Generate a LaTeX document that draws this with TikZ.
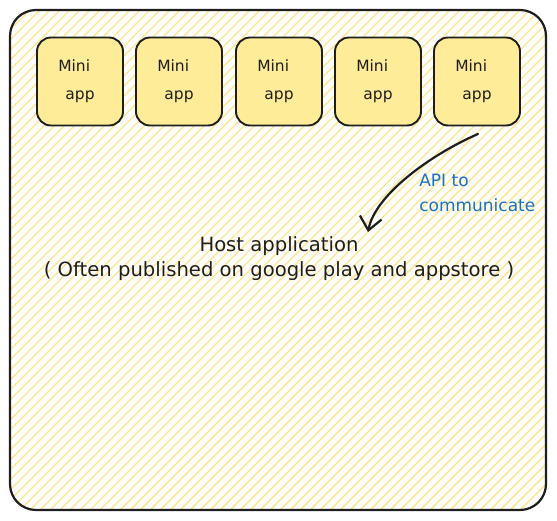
\documentclass[tikz,border=0pt]{standalone}
\usepackage{fontspec}
\setmainfont{DejaVu Sans}
\usepackage{xcolor}
\usepackage{tikz}
\usetikzlibrary{arrows.meta,positioning,calc}

\definecolor{miniyellow}{HTML}{FFEC99}
\definecolor{hatchyellow}{HTML}{FFE58A}
\definecolor{inkblack}{HTML}{1E1E1E}
\definecolor{apiblue}{HTML}{1971C2}

\begin{document}
\begin{tikzpicture}[x=1pt,y=-1pt,semithick]
	\tikzstyle{hostbox} = [draw=inkblack,line width=2.2pt,rounded corners=26pt]
	\tikzstyle{miniapp} = [draw=inkblack,line width=1.9pt,rectangle,rounded corners=14pt,fill=miniyellow,minimum width=86pt,minimum height=88pt,inner sep=0pt,align=center,text=inkblack,font=\fontsize{15.5}{28}\selectfont]
	\tikzstyle{hosttext} = [align=center,text=inkblack,font=\fontsize{19.6}{25}\selectfont]
	\tikzstyle{apitext} = [align=left,text=apiblue,font=\fontsize{17}{25}\selectfont,inner sep=0pt]

	\useasboundingbox (0,0) rectangle (557,520);

	% outer host frame with hatch fill
	\begin{scope}
		\clip[rounded corners=26pt] (10,10) rectangle (546,510);
		\foreach \k in {-55,...,56}
			\draw[hatchyellow,line width=1.4pt] (\k*10,520) -- ++(520,-520);
	\end{scope}
	\draw[hostbox] (10,10) rectangle (546,510);

	% mini apps
	\node[miniapp] (m1) at (80,81.5) {\mbox{Mini\hspace{0.75em}}\\app};
	\node[miniapp] (m2) at (179,81.5) {\mbox{Mini\hspace{0.75em}}\\app};
	\node[miniapp] (m3) at (279,81.5) {\mbox{Mini\hspace{0.75em}}\\app};
	\node[miniapp] (m4) at (378,81.5) {\mbox{Mini\hspace{0.75em}}\\app};
	\node[miniapp] (m5) at (477,81.5) {\mbox{Mini\hspace{0.75em}}\\app};

	% host application text
	\node[hosttext] (host) at (279,258.5) {Host application\\( Often published on google play and appstore )};
	\coordinate (tip) at (368,232);

	% API label and arrow
	\node[apitext,anchor=west] (api) at (419,192.5) {API to\\communicate};
	\draw[-{Straight Barb[length=13pt,width=22pt]},line width=2.2pt,inkblack,line cap=round]
		([xshift=1pt,yshift=-7.5pt]m5.south) .. controls (430,155) and (375,195) .. (tip);
\end{tikzpicture}
\end{document}
